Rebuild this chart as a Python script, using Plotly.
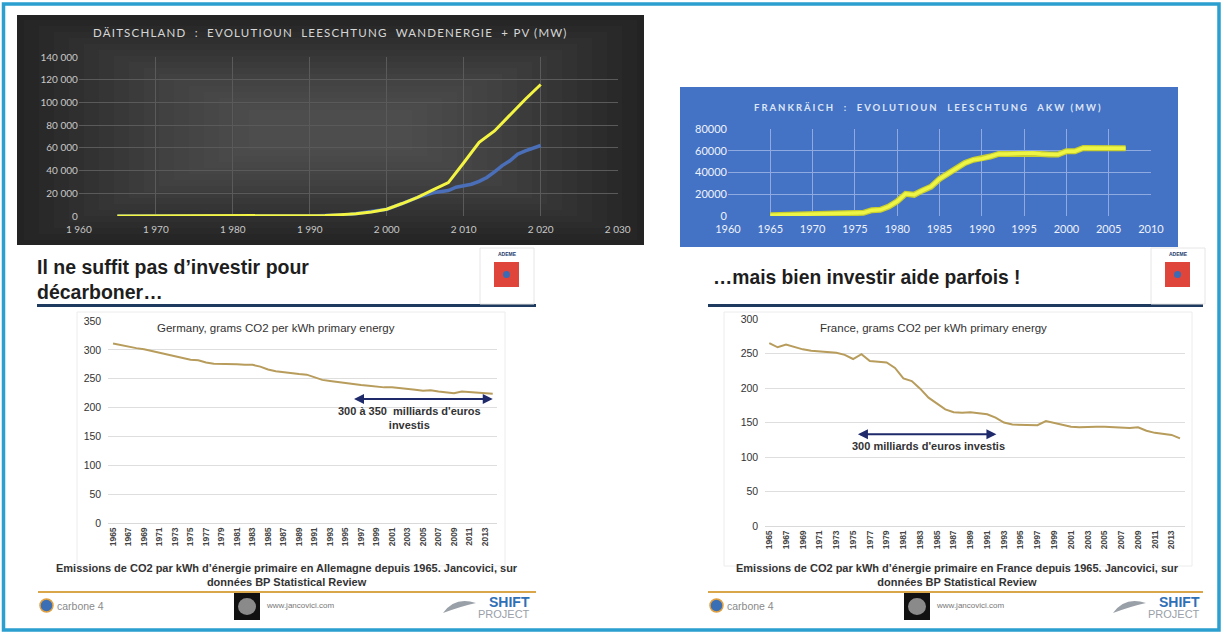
import plotly.graph_objects as go

W, H = 1224, 639

# Däitschland: Wand + PV (yellow) and Wand only (blue), MW
de_years_total = [1965, 1970, 1980, 1990, 1992, 1994, 1996, 1998, 2000, 2002, 2004,
                  2006, 2008, 2010, 2012, 2014, 2016, 2018, 2020]
de_total = [0, 0, 0, 200, 500, 1200, 2000, 3500, 6000, 11000, 16500,
            23000, 29500, 47000, 65000, 75000, 89000, 103000, 116000]
de_years_wind = [1965, 1990, 1995, 2000, 2002, 2004, 2006, 2008, 2009, 2010, 2011, 2012,
                 2013, 2014, 2015, 2016, 2017, 2018, 2019, 2020]
de_wind = [0, 100, 1100, 6000, 11000, 16500, 20500, 22500, 25400, 26500, 28000, 30500,
           34000, 39000, 44500, 48700, 54500, 57500, 59500, 62200]

# Frankräich: AKW Leeschtung, MW
fr_years = list(range(1965, 2008))
fr_nuc = [800, 1000, 1200, 1400, 1700, 2100, 2400, 2700, 3000, 3200, 3300, 2900, 5400,
          5700, 8700, 13500, 20400, 19500, 23500, 27000, 34000, 39000, 43600, 48700,
          51700, 52600, 54700, 57100, 57100, 57400, 57700, 58000, 57000, 56500, 56500,
          59500, 59500, 62500, 62500, 62500, 62500, 62500, 62300]

# CO2 g/kWh primary energy, 1965-2014
co2_years = list(range(1965, 2015))
co2_germany = [311, 308, 306, 303, 301, 298, 295, 292, 289, 287, 283, 282, 278, 276, 276,
               276, 275, 274, 274, 271, 266, 263, 261, 259, 258, 257, 252, 248, 246, 244,
               242, 240, 239, 238, 236, 235, 235, 234, 233, 231, 229, 230, 228, 227, 225,
               228, 227, 226, 225, 224]
co2_france = [265, 259, 263, 259, 256, 254, 253, 251, 251, 248, 242, 249, 239, 238, 237,
              229, 214, 210, 199, 186, 177, 169, 165, 164, 165, 163, 162, 157, 150, 147,
              147, 147, 146, 152, 149, 146, 144, 143, 144, 144, 144, 143, 142, 142, 143,
              138, 135, 134, 132, 127]

de_xticks = list(range(1960, 2031, 10))
de_xtext = ["1 960", "1 970", "1 980", "1 990", "2 000", "2 010", "2 020", "2 030"]
de_yticks = list(range(0, 140001, 20000))
de_ytext = ["0", "20 000", "40 000", "60 000", "80 000", "100 000", "120 000", "140 000"]
fr_xticks = list(range(1960, 2011, 5))
fr_yticks = list(range(0, 80001, 20000))
co2_xticks = list(range(1965, 2014, 2))
co2_xtext = ["<b>%d</b>" % v for v in co2_xticks]


def px(v):
    return v / W


def py(v):
    return 1 - v / H


fig = go.Figure()

fig.add_trace(go.Scatter(x=de_years_wind, y=de_wind, mode="lines",
                         line=dict(color="#4a6fb8", width=3.5), xaxis="x", yaxis="y"))
fig.add_trace(go.Scatter(x=de_years_total, y=de_total, mode="lines",
                         line=dict(color="#f4f443", width=3), xaxis="x", yaxis="y"))
fig.add_trace(go.Scatter(x=fr_years, y=fr_nuc, mode="lines",
                         line=dict(color="#c9cf2e", width=6), xaxis="x2", yaxis="y2"))
fig.add_trace(go.Scatter(x=fr_years, y=fr_nuc, mode="lines",
                         line=dict(color="#eef545", width=3.5), xaxis="x2", yaxis="y2"))
fig.add_trace(go.Scatter(x=co2_years, y=co2_germany, mode="lines",
                         line=dict(color="#b79c5c", width=2), xaxis="x3", yaxis="y3"))
fig.add_trace(go.Scatter(x=co2_years, y=co2_france, mode="lines",
                         line=dict(color="#b79c5c", width=2), xaxis="x4", yaxis="y4"))

top_font = "Lato, Open Sans, sans-serif"
arial = "Liberation Sans, Arial, sans-serif"

shapes = [
    # outer frame
    dict(type="rect", xref="paper", yref="paper", x0=px(3.5), x1=px(1219), y0=py(630), y1=py(4),
         line=dict(color="#2a9fd0", width=3.5), layer="above"),
    # dark panel
    dict(type="rect", xref="paper", yref="paper", x0=px(17), x1=px(644), y0=py(245), y1=py(15),
         fillcolor="#232323", line=dict(width=0), layer="below"),
    # blue panel
    dict(type="rect", xref="paper", yref="paper", x0=px(680), x1=px(1178), y0=py(247), y1=py(87),
         fillcolor="#4472c4", line=dict(width=0), layer="below"),
    # bottom chart frames
    dict(type="rect", xref="paper", yref="paper", x0=px(77), x1=px(505), y0=py(566), y1=py(312),
         line=dict(color="#ececec", width=1), layer="below"),
    dict(type="rect", xref="paper", yref="paper", x0=px(724), x1=px(1192), y0=py(566), y1=py(312),
         line=dict(color="#ececec", width=1), layer="below"),
    # slide title rules
    dict(type="line", xref="paper", yref="paper", x0=px(37), x1=px(536), y0=py(305.5), y1=py(305.5),
         line=dict(color="#1f3a5f", width=3)),
    dict(type="line", xref="paper", yref="paper", x0=px(708), x1=px(1203), y0=py(305.5), y1=py(305.5),
         line=dict(color="#1f3a5f", width=3)),
    # footer rules
    dict(type="line", xref="paper", yref="paper", x0=px(38), x1=px(536), y0=py(592), y1=py(592),
         line=dict(color="#d9a64a", width=2)),
    dict(type="line", xref="paper", yref="paper", x0=px(708), x1=px(1203), y0=py(592), y1=py(592),
         line=dict(color="#d9a64a", width=2)),
]

# soft radial lightening of the dark panel
for k in range(16):
    shapes.append(dict(type="rect", xref="paper", yref="paper",
                       x0=px(24 + 15 * k), x1=px(637 - 15 * k), y0=py(240 - 6 * k), y1=py(20 + 6 * k),
                       fillcolor="rgba(255,255,255,0.017)", line=dict(width=0), layer="below"))

annotations = [
    dict(text="<span style='letter-spacing:1.2px'>DÄITSCHLAND  :  EVOLUTIOUN  LEESCHTUNG  WANDENERGIE  + PV (MW)</span>",
         x=px(330), y=py(33), font=dict(family=top_font, size=11.5, color="#d6d6d6")),
    dict(text="<span style='letter-spacing:2px'><b>FRANKRÄICH  :  EVOLUTIOUN  LEESCHTUNG  AKW (MW)</b></span>",
         x=px(928), y=py(107), font=dict(family=top_font, size=9.5, color="#dfe6f5")),
    dict(text="<b>Il ne suffit pas d’investir pour<br>décarboner…</b>", x=px(35), y=py(279),
         xanchor="left", align="left", font=dict(family=arial, size=19.5, color="#1e1e1e")),
    dict(text="<b>…mais bien investir aide parfois !</b>", x=px(711), y=py(277),
         xanchor="left", align="left", font=dict(family=arial, size=19.3, color="#1e1e1e")),
    dict(text="Germany, grams CO2 per kWh primary energy", x=px(276), y=py(328),
         font=dict(family=arial, size=11.5, color="#333333")),
    dict(text="France, grams CO2 per kWh primary energy", x=px(933), y=py(328),
         font=dict(family=arial, size=11.5, color="#333333")),
    dict(text="<b>300 à 350  milliards d'euros<br>investis</b>", x=px(410), y=py(418),
         font=dict(family=arial, size=11, color="#333333")),
    dict(text="<b>300 milliards d'euros investis</b>", x=px(928), y=py(446),
         font=dict(family=arial, size=11, color="#333333")),
    dict(text="<b>Emissions de CO2 par kWh d’énergie primaire en Allemagne depuis 1965. Jancovici, sur<br>données BP Statistical Review</b>",
         x=px(287), y=py(575), font=dict(family=arial, size=11, color="#333333")),
    dict(text="<b>Emissions de CO2 par kWh d’énergie primaire en France depuis 1965. Jancovici, sur<br>données BP Statistical Review</b>",
         x=px(957), y=py(575), font=dict(family=arial, size=11, color="#333333")),
    # double arrows
    dict(x=2014, y=215, ax=1995.9, ay=215, xref="x3", yref="y3", axref="x3", ayref="y3",
         text="", showarrow=True, arrowside="end+start", arrowhead=2, arrowsize=1,
         arrowwidth=2, arrowcolor="#1f2a6b"),
    dict(x=1992.1, y=133, ax=1975.4, ay=133, xref="x4", yref="y4", axref="x4", ayref="y4",
         text="", showarrow=True, arrowside="end+start", arrowhead=2, arrowsize=1,
         arrowwidth=2, arrowcolor="#1f2a6b"),
]

# logos in the slide footers and headers
for dx in (0, 670):
    ax0 = 480 if dx == 0 else 1151
    shapes += [
        dict(type="rect", xref="paper", yref="paper", x0=px(ax0), x1=px(ax0 + 54), y0=py(304), y1=py(248),
             line=dict(color="#e6e6e6", width=1), fillcolor="white"),
        dict(type="rect", xref="paper", yref="paper", x0=px(ax0 + 14), x1=px(ax0 + 39), y0=py(287), y1=py(262),
             line=dict(width=0), fillcolor="#e0453c"),
        dict(type="circle", xref="paper", yref="paper", x0=px(ax0 + 23), x1=px(ax0 + 30), y0=py(278), y1=py(271),
             line=dict(width=0), fillcolor="#3b6bb5"),
        dict(type="circle", xref="paper", yref="paper", x0=px(40 + dx), x1=px(53 + dx), y0=py(612), y1=py(599),
             line=dict(color="#e0a040", width=1.5), fillcolor="#3a6fb5"),
        dict(type="rect", xref="paper", yref="paper", x0=px(234 + dx), x1=px(260 + dx), y0=py(620), y1=py(593),
             line=dict(width=0), fillcolor="#111111"),
        dict(type="circle", xref="paper", yref="paper", x0=px(238 + dx), x1=px(256 + dx), y0=py(615), y1=py(598),
             line=dict(width=0), fillcolor="#8a8a8a"),
        dict(type="path", xref="paper", yref="paper",
             path=f"M {px(443 + dx)} {py(613)} Q {px(455 + dx)} {py(596)} {px(476 + dx)} {py(603)} "
                  f"Q {px(462 + dx)} {py(606)} {px(443 + dx)} {py(613)} Z",
             line=dict(width=0), fillcolor="#9aa0a8"),
    ]
    annotations += [
        dict(text="<b>ADEME</b>", x=px(ax0 + 27), y=py(254), font=dict(family=arial, size=5, color="#1f3a6b")),
        dict(text="carbone 4", x=px(55 + dx), y=py(606), xanchor="left",
             font=dict(family=arial, size=10.5, color="#8a8a8a")),
        dict(text="www.jancovici.com", x=px(264 + dx), y=py(605), xanchor="left",
             font=dict(family=arial, size=8, color="#777777")),
        dict(text="<b>SHIFT</b>", x=px(532 + dx), y=py(602), xanchor="right",
             font=dict(family=arial, size=14, color="#2f6fb6")),
        dict(text="PROJECT", x=px(532 + dx), y=py(614), xanchor="right",
             font=dict(family=arial, size=11, color="#9aa0a8")),
    ]

for a in annotations:
    a.setdefault("xref", "paper")
    a.setdefault("yref", "paper")
    a.setdefault("showarrow", False)
    a.setdefault("xanchor", "center")
    a.setdefault("yanchor", "middle")

fig.update_layout(
    width=W, height=H, margin=dict(l=0, r=0, t=0, b=0, autoexpand=False),
    paper_bgcolor="white", plot_bgcolor="rgba(0,0,0,0)", showlegend=False,
    shapes=shapes, annotations=annotations,
    xaxis=dict(domain=[px(78.8), px(617.7)], range=[1960, 2030], tickvals=de_xticks, ticktext=de_xtext,
               showgrid=True, gridcolor="#5a5a5a", gridwidth=1, zeroline=False, showline=False,
               tickfont=dict(family=top_font, size=10, color="#c8c8c8"), ticks="", automargin=False,
               ticklabelstandoff=6),
    yaxis=dict(domain=[py(216), py(57.3)], range=[0, 140000], tickvals=de_yticks, ticktext=de_ytext,
               showgrid=True, gridcolor="#5a5a5a", gridwidth=1, zeroline=False, automargin=False,
               tickfont=dict(family=top_font, size=10, color="#c8c8c8"), ticks="", anchor="x"),
    xaxis2=dict(domain=[px(728), px(1151)], range=[1960, 2010], tickvals=fr_xticks, anchor="y2",
                showgrid=True, gridcolor="#8eaae0", zeroline=False, automargin=False,
                tickfont=dict(family=top_font, size=11, color="#eef2fa"), ticks="",
                ticklabelstandoff=5),
    yaxis2=dict(domain=[py(216), py(129)], range=[0, 80000], tickvals=fr_yticks, anchor="x2",
                showgrid=True, gridcolor="#8eaae0", zeroline=False, tickformat="d", automargin=False,
                tickfont=dict(family=top_font, size=11, color="#eef2fa"), ticks=""),
    xaxis3=dict(domain=[px(108), px(497)], range=[1964.35, 2014.55], tickvals=co2_xticks,
                ticktext=co2_xtext, tickangle=-90, anchor="y3", automargin=False,
                showgrid=False, zeroline=False, showline=True, linecolor="#d9d9d9",
                tickfont=dict(family=arial, size=8.5, color="#444444"), ticks=""),
    yaxis3=dict(domain=[py(523), py(321)], range=[0, 350], dtick=50, anchor="x3", automargin=False,
                showgrid=True, gridcolor="#dedede", zeroline=False,
                tickfont=dict(family=arial, size=10.5, color="#333333"), ticks="", ticksuffix="  "),
    xaxis4=dict(domain=[px(765), px(1185)], range=[1964.49, 2014.6], tickvals=co2_xticks,
                ticktext=co2_xtext, tickangle=-90, anchor="y4", automargin=False,
                showgrid=False, zeroline=False, showline=True, linecolor="#d9d9d9",
                tickfont=dict(family=arial, size=8.5, color="#444444"), ticks=""),
    yaxis4=dict(domain=[py(526), py(319)], range=[0, 300], dtick=50, anchor="x4", automargin=False,
                showgrid=True, gridcolor="#dedede", zeroline=False,
                tickfont=dict(family=arial, size=10.5, color="#333333"), ticks="", ticksuffix="  "),
)

# the page body adds an 8 px margin by default; drop it so the figure fills the window
fig.write_html("out.html", config={"displayModeBar": False},
               post_script="document.body.style.margin='0';")
